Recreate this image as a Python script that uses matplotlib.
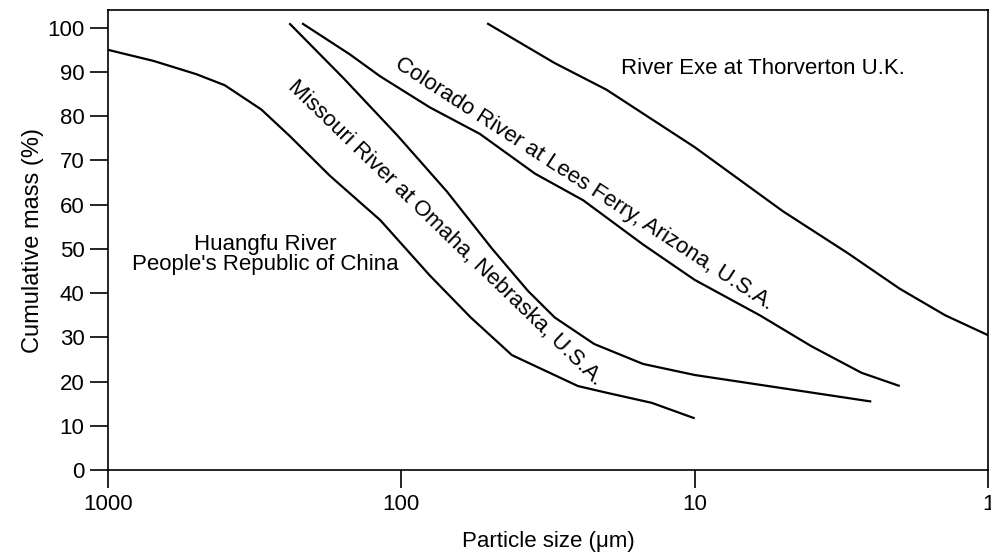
import matplotlib.pyplot as plt
from matplotlib.ticker import FixedLocator, NullLocator, FixedFormatter

plt.rcParams['font.family'] = ['Liberation Sans', 'DejaVu Sans']

# Curvas granulométricas (tamaño en micras, masa acumulada en %)
huangfu_x = [1000, 700, 500, 400, 300, 240, 175, 118, 80, 58, 42, 25, 20, 14, 10]
huangfu_y = [95, 92.5, 89.5, 87, 81.5, 75.5, 66.5, 56.5, 44, 34.5, 26, 19, 17.5, 15.2, 11.7]

missouri_x = [241, 157, 103, 70, 49, 37, 30, 22, 15, 10, 5, 2.5]
missouri_y = [101, 88.5, 75.6, 63, 50, 40.5, 34.5, 28.5, 24, 21.5, 18.5, 15.5]

colorado_x = [218, 150, 118, 80, 54, 35, 24, 15, 10, 6, 4, 2.7, 2]
colorado_y = [101, 94, 89, 82, 76, 67, 61, 51, 43, 35, 28, 22, 19]

exe_x = [51, 30, 20, 10, 5, 3, 2, 1.4, 1]
exe_y = [101, 92, 86, 73, 58.5, 49, 41, 35, 30.5]

x_ticks = [1000, 100, 10, 1]
x_labels = ['1000', '100', '10', '1']
y_ticks = [0, 10, 20, 30, 40, 50, 60, 70, 80, 90, 100]

fig = plt.figure(figsize=(9.91, 5.57), dpi=100)
ax = fig.add_axes([0.109, 0.156, 0.888, 0.826])

for xs, ys in [(huangfu_x, huangfu_y), (missouri_x, missouri_y),
               (colorado_x, colorado_y), (exe_x, exe_y)]:
    ax.plot(xs, ys, color='black', lw=1.6, solid_capstyle='butt')

ax.set_xscale('log')
ax.set_xlim(1000, 1)
ax.set_ylim(0, 104)

ax.xaxis.set_major_locator(FixedLocator(x_ticks))
ax.xaxis.set_major_formatter(FixedFormatter(x_labels))
ax.xaxis.set_minor_locator(NullLocator())
ax.set_yticks(y_ticks)

ax.tick_params(axis='both', direction='out', length=13, width=1.2,
               labelsize=16, pad=4)
for s in ax.spines.values():
    s.set_linewidth(1.2)

ax.set_xlabel('Particle size (\u03bcm)', fontsize=16, labelpad=12)
ax.set_ylabel('Cumulative mass (%)', fontsize=17, labelpad=2)

# Etiquetas de cada río
ax.text(292, 51, 'Huangfu River', fontsize=16, ha='center', va='center')
ax.text(292, 46.5, "People's Republic of China", fontsize=16,
        ha='center', va='center')
ax.text(5.85, 90.7, 'River Exe at Thorverton U.K.', fontsize=16,
        ha='center', va='center')
ax.text(23.8, 64.7, 'Colorado River at Lees Ferry, Arizona, U.S.A.',
        fontsize=16, ha='center', va='center', rotation=-33,
        rotation_mode='anchor')
ax.text(71, 53.5, 'Missouri River at Omaha, Nebraska, U.S.A.',
        fontsize=16, ha='center', va='center', rotation=-44,
        rotation_mode='anchor')

fig.savefig('out.png', dpi=100)
